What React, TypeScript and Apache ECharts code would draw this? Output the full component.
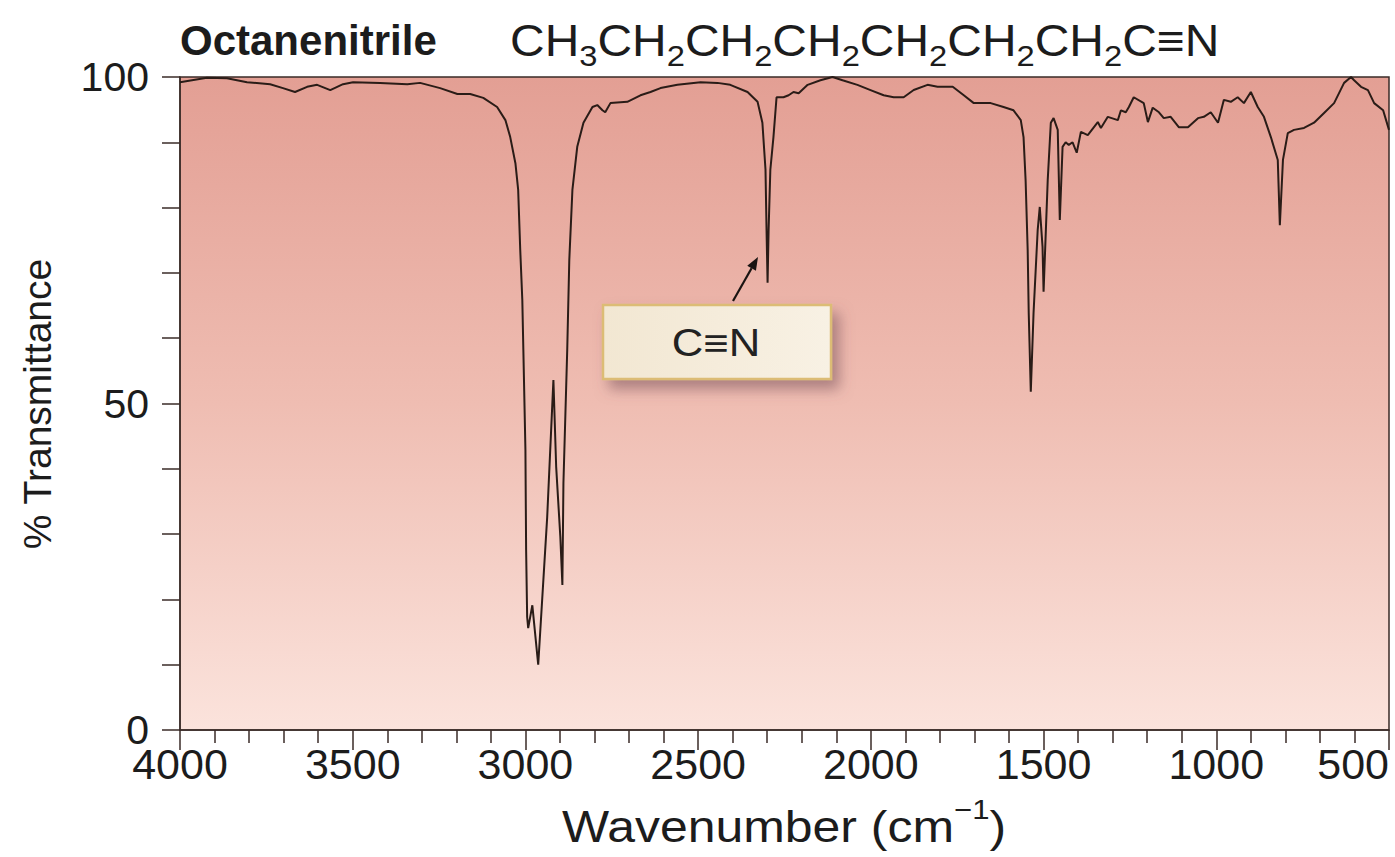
import { useEffect, useRef } from "react";
import * as echarts from "echarts";

// IR spectrum of octanenitrile
const WAVENUMBER = [
  4000, 3922, 3864, 3806, 3739, 3702, 3667, 3632, 3603, 3565, 3528, 3499, 3421, 3342, 3305, 3247,
  3197, 3160, 3122, 3082, 3058, 3044, 3029, 3021, 3015, 3009, 3006, 3000, 2998, 2995, 2992, 2980,
  2963, 2937, 2919, 2911, 2899, 2893, 2890, 2879, 2873, 2864, 2850, 2832, 2806, 2792, 2777, 2769,
  2754, 2705, 2667, 2638, 2609, 2560, 2493, 2444, 2407, 2357, 2328, 2314, 2305, 2302, 2299, 2296,
  2291, 2282, 2273, 2253, 2238, 2224, 2209, 2183, 2146, 2111, 2082, 2039, 2001, 1963, 1934, 1905,
  1876, 1836, 1807, 1763, 1731, 1702, 1653, 1616, 1587, 1566, 1558, 1552, 1546, 1543, 1537, 1529,
  1517, 1511, 1503, 1500, 1488, 1479, 1471, 1459, 1453, 1445, 1436, 1427, 1416, 1404, 1392, 1372,
  1343, 1334, 1314, 1285, 1276, 1262, 1253, 1239, 1210, 1198, 1184, 1166, 1152, 1132, 1108, 1082,
  1053, 1036, 1016, 995, 978, 958, 938, 920, 900, 880, 862, 842, 822, 816, 807, 793,
  775, 746, 717, 688, 659, 630, 610, 601, 581, 561, 543, 517, 500,
];
const TRANSMITTANCE = [
  99.2, 99.9, 99.8, 99.2, 98.9, 98.3, 97.7, 98.5, 98.8, 98.0, 98.9, 99.2, 99.1, 98.9, 99.1, 98.3,
  97.4, 97.4, 96.8, 95.4, 93.4, 90.8, 86.8, 82.7, 73.5, 65.8, 58.2, 42.9, 27.6, 17.3, 15.6, 19.1,
  10.0, 32.6, 53.6, 40.3, 29.6, 22.2, 37.8, 58.2, 72.0, 82.7, 89.3, 93.0, 95.4, 95.7, 94.9, 94.6,
  96.0, 96.2, 97.2, 97.7, 98.3, 98.8, 99.2, 99.1, 98.8, 97.7, 96.2, 93.0, 85.8, 76.6, 68.5, 76.6,
  85.8, 90.8, 96.9, 96.9, 97.2, 97.7, 97.5, 98.8, 99.5, 100, 99.5, 98.8, 98.0, 97.2, 96.9, 96.9,
  98.0, 98.8, 98.5, 98.5, 97.2, 96.0, 96.0, 95.4, 94.9, 93.4, 90.8, 84.2, 73.5, 63.9, 51.8, 63.9,
  76.6, 80.1, 74.0, 67.1, 84.2, 93.0, 93.7, 91.9, 78.1, 89.3, 90.0, 89.6, 90.0, 88.4, 91.6, 91.1,
  93.1, 92.2, 93.9, 93.4, 94.9, 94.6, 95.4, 96.9, 96.0, 93.1, 95.3, 94.6, 93.7, 93.9, 92.3, 92.3,
  93.7, 93.9, 94.6, 93.0, 96.5, 96.2, 96.9, 96.0, 97.7, 95.4, 93.9, 90.8, 87.3, 77.3, 87.3, 91.4,
  91.9, 92.2, 93.0, 94.5, 96.0, 99.1, 100, 99.5, 98.5, 98.0, 96.0, 94.9, 91.9,
];

const X_MIN = 500;
const X_MAX = 4000;
const X_STEP = 500;
const Y_MIN = 0;
const Y_MAX = 100;
const Y_STEP = 10;
const Y_LABELS = [0, 50, 100];

const TITLE = "Octanenitrile";
const FORMULA_PARTS: [string, string][] = [
  ["CH", "3"], ["CH", "2"], ["CH", "2"], ["CH", "2"], ["CH", "2"], ["CH", "2"], ["CH", "2"], ["C≡N", ""],
];
const ANNOTATION = "C≡N";

const FONT = "'Liberation Sans', Arial, Helvetica, sans-serif";
const INK = "#1c1c1c";

export default function App() {
  const ref = useRef<HTMLDivElement>(null);

  useEffect(() => {
    document.body.style.margin = "0";
    const chart = echarts.init(ref.current!, null, { renderer: "svg" });

    const data = WAVENUMBER.map((w, i) => [w, TRANSMITTANCE[i]]);
    const formulaText = FORMULA_PARTS.map(([m, s]) => `{m|${m}}` + (s ? `{s|${s}}` : "")).join("");

    // annotation arrow
    const tail = [733, 301];
    const tip = [758, 257];
    const dx = tip[0] - tail[0];
    const dy = tip[1] - tail[1];
    const len = Math.hypot(dx, dy);
    const ux = dx / len, uy = dy / len;
    const hl = 13, hw = 5;
    const bx = tip[0] - hl * ux, by = tip[1] - hl * uy;
    const px = -uy, py = ux;

    chart.setOption({
      animation: false,
      grid: {
        left: 180,
        top: 77,
        right: 6,
        bottom: 127,
        containLabel: false,
        outerBoundsMode: "none",
        show: true,
        borderColor: "#3a2b27",
        borderWidth: 1.5,
        backgroundColor: new echarts.graphic.LinearGradient(0, 0, 0, 1, [
          { offset: 0, color: "#e39f94" },
          { offset: 0.5, color: "#efbdb2" },
          { offset: 1, color: "#fbe3dc" },
        ]),
      },
      xAxis: {
        type: "value",
        min: X_MIN,
        max: X_MAX,
        interval: X_STEP,
        inverse: true,
        axisLine: { show: true, lineStyle: { color: "#3a2b27", width: 1.5 } },
        axisTick: { show: true, inside: false, length: 20, lineStyle: { color: "#3a2b27", width: 1.5 } },
        minorTick: { show: true, splitNumber: 5, length: 13, lineStyle: { color: "#3a2b27", width: 1.5 } },
        splitLine: { show: false },
        minorSplitLine: { show: false },
        axisLabel: {
          show: true,
          margin: 18,
          fontSize: 43,
          lineHeight: 32,
          fontFamily: FONT,
          color: INK,
          formatter: (v: number) => String(v),
          showMinLabel: true,
          showMaxLabel: true,
          hideOverlap: false,
          alignMinLabel: "right",
        },
      },
      yAxis: {
        type: "value",
        min: Y_MIN,
        max: Y_MAX,
        interval: Y_STEP,
        axisLine: { show: true, lineStyle: { color: "#3a2b27", width: 1.5 } },
        axisTick: { show: true, inside: false, length: 18, lineStyle: { color: "#3a2b27", width: 1.5 } },
        splitLine: { show: false },
        axisLabel: {
          show: true,
          margin: 31,
          fontSize: 41,
          lineHeight: 30,
          fontFamily: FONT,
          color: INK,
          formatter: (v: number) => (Y_LABELS.includes(v) ? String(v) : ""),
          showMinLabel: true,
          showMaxLabel: true,
        },
      },
      series: [
        {
          type: "line",
          data,
          showSymbol: false,
          smooth: false,
          clip: true,
          lineStyle: { color: "#2a1c17", width: 2 },
          z: 3,
        },
      ],
      graphic: [
        {
          type: "text",
          x: 180,
          y: 40,
          style: {
            text: TITLE,
            fontSize: 42,
            fontWeight: "bold",
            fontFamily: FONT,
            fill: INK,
            align: "left",
            verticalAlign: "middle",
          },
        },
        {
          type: "text",
          x: 510,
          y: 41,
          scaleX: 1.09,
          style: {
            text: formulaText,
            align: "left",
            verticalAlign: "middle",
            rich: {
              m: { fontSize: 44, lineHeight: 60, fontFamily: FONT, fill: INK, verticalAlign: "middle" },
              s: { fontSize: 30, lineHeight: 30, fontFamily: FONT, fill: INK, verticalAlign: "bottom" },
            },
          },
        },
        {
          type: "text",
          x: 784,
          y: 826,
          scaleX: 1.11,
          style: {
            text: "{m|Wavenumber (cm}{p|−1}{m|)}",
            align: "center",
            verticalAlign: "middle",
            rich: {
              m: { fontSize: 45, lineHeight: 62, fontFamily: FONT, fill: INK, verticalAlign: "middle" },
              p: { fontSize: 28, lineHeight: 28, fontFamily: FONT, fill: INK, verticalAlign: "top" },
            },
          },
        },
        {
          type: "text",
          x: 37,
          y: 404,
          rotation: Math.PI / 2,
          style: {
            text: "% Transmittance",
            fontSize: 39,
            fontFamily: FONT,
            fill: INK,
            align: "center",
            verticalAlign: "middle",
          },
        },
        {
          type: "rect",
          shape: { x: 603, y: 305, width: 228, height: 74 },
          z: 10,
          style: {
            fill: new echarts.graphic.LinearGradient(0, 0, 1, 0, [
              { offset: 0, color: "#f2e7d2" },
              { offset: 1, color: "#f8f1e4" },
            ]),
            stroke: "#dcbc74",
            lineWidth: 2.5,
            shadowBlur: 14,
            shadowColor: "rgba(120, 80, 90, 0.55)",
            shadowOffsetX: 7,
            shadowOffsetY: 9,
          },
        },
        {
          type: "text",
          x: 716,
          y: 343,
          z: 11,
          scaleX: 1.15,
          style: {
            text: ANNOTATION,
            fontSize: 38,
            fontFamily: FONT,
            fill: "#222",
            align: "center",
            verticalAlign: "middle",
          },
        },
        {
          type: "line",
          z: 11,
          shape: { x1: tail[0], y1: tail[1], x2: bx, y2: by },
          style: { stroke: "#1a1412", lineWidth: 2.2 },
        },
        {
          type: "polygon",
          z: 11,
          shape: {
            points: [
              [tip[0], tip[1]],
              [bx + hw * px, by + hw * py],
              [bx - hw * px, by - hw * py],
            ],
          },
          style: { fill: "#1a1412" },
        },
      ],
    });

    return () => chart.dispose();
  }, []);

  return <div ref={ref} style={{ width: 1395, height: 857 }} />;
}
